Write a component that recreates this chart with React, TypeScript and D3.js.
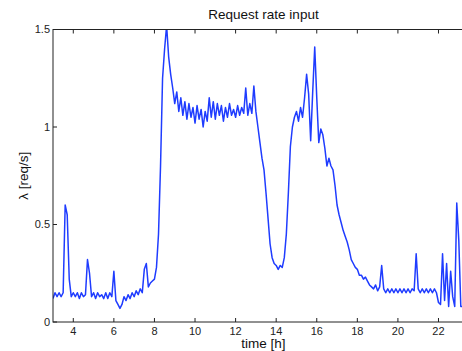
import * as d3 from 'd3';

// request rate sampled every 0.1 h starting at 3:00
const startHour = 3;
const stepHour = 0.1;
const rate = [
  0.12, 0.15, 0.13, 0.15, 0.13, 0.15, 0.6, 0.55, 0.22, 0.13,
  0.15, 0.13, 0.15, 0.12, 0.15, 0.13, 0.14, 0.32, 0.25, 0.13,
  0.15, 0.12, 0.15, 0.13, 0.14, 0.12, 0.15, 0.12, 0.15, 0.13,
  0.26, 0.11, 0.09, 0.07, 0.09, 0.13, 0.11, 0.14, 0.12, 0.15,
  0.13, 0.16, 0.14, 0.17, 0.15, 0.27, 0.3, 0.18, 0.2, 0.21,
  0.22, 0.28, 0.45, 0.8, 1.25, 1.4, 1.52, 1.36, 1.27, 1.2,
  1.12, 1.18, 1.08, 1.15, 1.06, 1.13, 1.04, 1.12, 1.05, 1.1,
  1.02, 1.11, 1.04, 1.09, 1.0, 1.08, 1.03, 1.15, 1.05, 1.13,
  1.04, 1.12, 1.06, 1.11, 1.03, 1.1, 1.05, 1.12, 1.06, 1.09,
  1.05, 1.11, 1.06, 1.1, 1.07, 1.2, 1.06, 1.12, 1.07, 1.21,
  1.08, 1.0, 0.92, 0.84, 0.78, 0.66, 0.53, 0.4, 0.33, 0.3,
  0.29, 0.27, 0.29, 0.28, 0.33, 0.45, 0.66, 0.9, 1.0, 1.05,
  1.08, 1.03, 1.1, 1.05, 1.15, 1.27, 1.17, 0.93, 1.18, 1.41,
  1.15, 0.92, 0.99, 0.96, 0.89, 0.8, 0.84, 0.8, 0.78, 0.7,
  0.6, 0.55, 0.51, 0.47, 0.44, 0.41, 0.37, 0.32, 0.3, 0.28,
  0.27, 0.24, 0.24, 0.22, 0.23, 0.21, 0.19, 0.18, 0.17, 0.19,
  0.16, 0.18, 0.29, 0.17, 0.15, 0.17, 0.15, 0.17, 0.15, 0.17,
  0.15, 0.17, 0.15, 0.17, 0.15, 0.17, 0.15, 0.17, 0.16, 0.35,
  0.17, 0.15, 0.17, 0.15, 0.17, 0.15, 0.17, 0.15, 0.17, 0.15,
  0.1, 0.09, 0.35, 0.11, 0.3, 0.08, 0.26, 0.13, 0.08, 0.61,
  0.42, 0.08, 0.08,
];

const xTicks = [4, 6, 8, 10, 12, 14, 16, 18, 20, 22];
const yTicks = [0, 0.5, 1, 1.5];

const W = 462;
const H = 351;
const left = 53;
const right = 474; // axes box runs past the picture edge
const top = 29.5;
const bottom = 322;
const font = '"Liberation Sans", Arial, sans-serif';

export default function App() {
  const x = d3.scaleLinear().domain([3, 23.75]).range([left, right]);
  const y = d3.scaleLinear().domain([0, 1.5]).range([bottom, top]);

  const line = d3
    .line<number>()
    .x((_, i) => x(startHour + i * stepHour))
    .y((d) => y(d));

  const tickLen = 4;

  return (
    <svg
      width={W}
      height={H}
      style={{ position: 'absolute', left: 0, top: 0, background: '#fff' }}
      fontFamily={font}
    >
      <defs>
        <clipPath id='plot'>
          <rect x={left} y={top} width={right - left} height={bottom - top} />
        </clipPath>
      </defs>

      <path
        d={line(rate) ?? ''}
        fill='none'
        stroke='#1f3cff'
        strokeWidth={1.5}
        strokeLinejoin='round'
        clipPath='url(#plot)'
      />

      {/* box */}
      <rect
        x={left}
        y={top}
        width={right - left}
        height={bottom - top}
        fill='none'
        stroke='#222'
        strokeWidth={1}
      />

      {xTicks.map((t) => (
        <g key={t}>
          <line x1={x(t)} x2={x(t)} y1={bottom} y2={bottom - tickLen} stroke='#222' />
          <line x1={x(t)} x2={x(t)} y1={top} y2={top + tickLen} stroke='#222' />
          <text x={x(t)} y={335} textAnchor='middle' fontSize={11} fill='#222'>
            {t}
          </text>
        </g>
      ))}

      {yTicks.map((t) => (
        <g key={t}>
          <line x1={left} x2={left + tickLen} y1={y(t)} y2={y(t)} stroke='#222' />
          <text
            x={left - 3}
            y={y(t)}
            dy='0.35em'
            textAnchor='end'
            fontSize={11}
            fill='#222'
          >
            {t}
          </text>
        </g>
      ))}

      <text x={(left + right) / 2} y={19} textAnchor='middle' fontSize={13.5} fill='#111'>
        Request rate input
      </text>
      <text x={(left + right) / 2} y={348} textAnchor='middle' fontSize={13.5} fill='#111'>
        time [h]
      </text>
      <text
        transform={`translate(28,${(top + bottom) / 2}) rotate(-90)`}
        textAnchor='middle'
        fontSize={13.5}
        fill='#111'
      >
        λ [req/s]
      </text>
    </svg>
  );
}
